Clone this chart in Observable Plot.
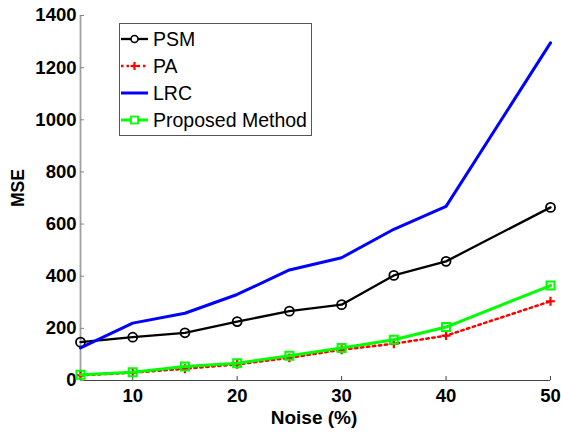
<!DOCTYPE html>
<html>
<head>
<meta charset="utf-8">
<script src="https://cdn.jsdelivr.net/npm/d3@7"></script>
<script src="https://cdn.jsdelivr.net/npm/@observablehq/plot@0.6"></script>
<style>
  body { margin: 0; background: white; }
  #wrap { position: relative; width: 561px; height: 432px; font-family: "Liberation Sans", Arial, sans-serif; }
  #wrap svg.chart { position: absolute; left: 0; top: 0; }
  .lbl { position: absolute; color: black; font-weight: bold; white-space: nowrap; }
  #legend { position: absolute; left: 119px; top: 23px; width: 193px; height: 113px; border: 1px solid #555; background: white; box-sizing: border-box; }
  .entry { position: absolute; left: 0; height: 24px; display: flex; align-items: center; font-size: 19.5px; color: black; }
  .entry svg { margin-right: 3px; }
</style>
</head>
<body>
<div id="wrap"></div>
<script>
const noise = [5, 10, 15, 20, 25, 30, 35, 40, 50];
const psm = [147, 166, 183, 226, 266, 291, 403, 457, 664];
const pa = [20, 30, 45, 62, 87, 118, 141, 172, 304];
const lrc = [125, 220, 258, 330, 424, 471, 580, 668, 1295];
const proposed = [22, 32, 54, 66, 95, 125, 156, 205, 364];
const seriesNames = ["PSM", "PA", "LRC", "Proposed Method"];
const xTicks = [10, 20, 30, 40, 50];
const yTicks = [0, 200, 400, 600, 800, 1000, 1200, 1400];

const rows = (vals) => noise.map((x, i) => ({x, y: vals[i]}));
const plusSymbol = {
  draw(ctx, size) {
    const r = Math.sqrt(size) / 2;
    ctx.moveTo(-r, 0); ctx.lineTo(r, 0);
    ctx.moveTo(0, -r); ctx.lineTo(0, r);
  }
};

const chart = Plot.plot({
  width: 561, height: 432,
  marginLeft: 80, marginRight: 11, marginTop: 15, marginBottom: 52,
  style: {fontFamily: "'Liberation Sans', Arial, sans-serif", background: "transparent", overflow: "visible"},
  x: {domain: [5, 50]},
  y: {domain: [0, 1400]},
  marks: [
    Plot.ruleX([5], {stroke: "#a0a0a0", strokeWidth: 1.8}),
    Plot.ruleY([0], {stroke: "#444", strokeWidth: 1}),
    Plot.axisY({ticks: yTicks, tickSize: -4, tickPadding: 8, tickFormat: d => String(d), label: null,
      stroke: "#888", fill: "black", fontSize: 18.5, fontWeight: "bold"}),
    Plot.axisX({ticks: xTicks, tickSize: -4, tickPadding: 12, tickFormat: d => String(d), label: null,
      stroke: "#444", fill: "black", fontSize: 18.5, fontWeight: "bold"}),
    Plot.line(rows(psm), {x: "x", y: "y", stroke: "black", strokeWidth: 2.3}),
    Plot.dot(rows(psm), {x: "x", y: "y", r: 4.5, stroke: "black", strokeWidth: 1.8, fill: "none"}),
    Plot.line(rows(pa), {x: "x", y: "y", stroke: "#ff0000", strokeWidth: 2.5, strokeDasharray: "2.5,3.5"}),
    Plot.dot(rows(pa), {x: "x", y: "y", symbol: plusSymbol, r: 5, stroke: "#ff0000", strokeWidth: 2.2, fill: "none"}),
    Plot.line(rows(lrc), {x: "x", y: "y", stroke: "#0000ff", strokeWidth: 3}),
    Plot.line(rows(proposed), {x: "x", y: "y", stroke: "#00ff00", strokeWidth: 3}),
    Plot.dot(rows(proposed), {x: "x", y: "y", symbol: "square", r: 4.5, stroke: "#00ff00", strokeWidth: 2, fill: "none"})
  ]
});
chart.classList.add("chart");
const wrap = document.getElementById("wrap");
wrap.appendChild(chart);

// axis titles
const xl = document.createElement("div");
xl.className = "lbl";
xl.textContent = "Noise (%)";
xl.style.cssText = "left:314px;top:407px;transform:translateX(-50%);font-size:19px;";
wrap.appendChild(xl);
const yl = document.createElement("div");
yl.className = "lbl";
yl.textContent = "MSE";
yl.style.cssText = "left:18px;top:188px;transform:translate(-50%,-50%) rotate(-90deg);font-size:17.5px;";
wrap.appendChild(yl);

// legend
const legend = document.createElement("div");
legend.id = "legend";
wrap.appendChild(legend);
const legendStyles = [
  {stroke: "black", width: 2.3, dash: null, marker: "circle"},
  {stroke: "#ff0000", width: 2.5, dash: "2.5,3", marker: "plus"},
  {stroke: "#0000ff", width: 3, dash: null, marker: null},
  {stroke: "#00ff00", width: 3, dash: null, marker: "square"}
];
seriesNames.forEach((name, i) => {
  const st = legendStyles[i];
  const e = document.createElement("div");
  e.className = "entry";
  e.style.top = (3 + i * 27) + "px";
  const ns = "http://www.w3.org/2000/svg";
  const s = document.createElementNS(ns, "svg");
  s.setAttribute("width", 30); s.setAttribute("height", 24);
  const ln = document.createElementNS(ns, "line");
  ln.setAttribute("x1", 1); ln.setAttribute("x2", 28); ln.setAttribute("y1", 12); ln.setAttribute("y2", 12);
  ln.setAttribute("stroke", st.stroke); ln.setAttribute("stroke-width", st.width);
  if (st.dash) ln.setAttribute("stroke-dasharray", st.dash);
  s.appendChild(ln);
  if (st.marker === "circle") {
    const c = document.createElementNS(ns, "circle");
    c.setAttribute("cx", 14.5); c.setAttribute("cy", 12); c.setAttribute("r", 3.5);
    c.setAttribute("fill", "white"); c.setAttribute("stroke", st.stroke); c.setAttribute("stroke-width", 1.6);
    s.appendChild(c);
  } else if (st.marker === "square") {
    const r = document.createElementNS(ns, "rect");
    r.setAttribute("x", 11); r.setAttribute("y", 8.5); r.setAttribute("width", 7); r.setAttribute("height", 7);
    r.setAttribute("fill", "white"); r.setAttribute("stroke", st.stroke); r.setAttribute("stroke-width", 1.8);
    s.appendChild(r);
  } else if (st.marker === "plus") {
    const p = document.createElementNS(ns, "path");
    p.setAttribute("d", "M10.5,12H18.5M14.5,8V16");
    p.setAttribute("stroke", st.stroke); p.setAttribute("stroke-width", 2.2);
    s.appendChild(p);
  }
  e.appendChild(s);
  const t = document.createElement("span");
  t.textContent = name;
  e.appendChild(t);
  legend.appendChild(e);
});
</script>
</body>
</html>
